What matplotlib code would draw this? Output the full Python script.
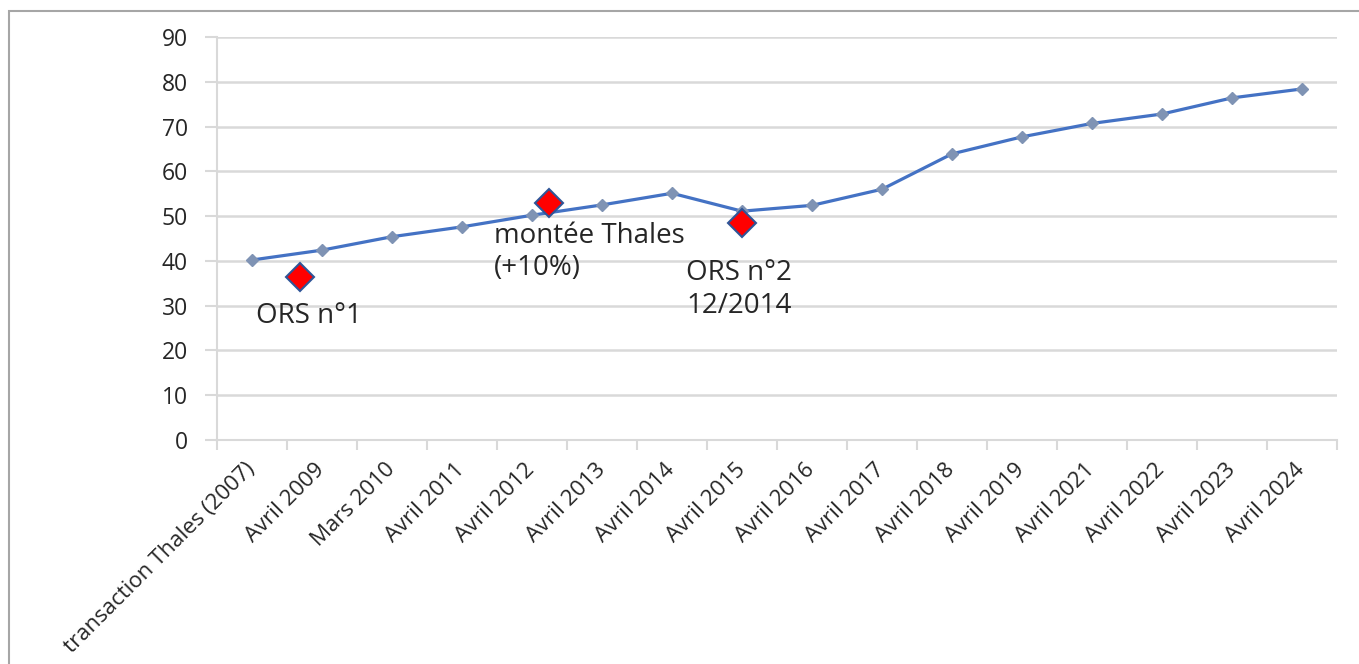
import numpy as np
import matplotlib.pyplot as plt
from matplotlib.patches import Rectangle

plt.rcParams['font.family'] = ['Open Sans', 'DejaVu Sans']

labels = ['transaction Thales (2007)', 'Avril 2009', 'Mars 2010', 'Avril 2011', 'Avril 2012',
          'Avril 2013', 'Avril 2014', 'Avril 2015', 'Avril 2016', 'Avril 2017', 'Avril 2018',
          'Avril 2019', 'Avril 2021', 'Avril 2022', 'Avril 2023', 'Avril 2024']
values = [40.2, 42.4, 45.4, 47.6, 50.2, 52.5, 55.1, 51.1, 52.4, 56.0, 63.9,
          67.7, 70.7, 72.8, 76.4, 78.4]

# events (x in category units)
event_x = [0.69, 4.24, 7.0]
event_y = [36.3, 52.9, 48.5]
event_text = ['ORS n°1', 'montée Thales\n(+10%)', 'ORS n°2\n12/2014']
text_x = [0.06, 3.46, 6.2]
text_y = [27.7, 42.0, 33.6]

grey = '#D9D9D9'

fig = plt.figure(figsize=(13.59, 6.64), dpi=100)
ax = fig.add_axes([217/1359, 1 - 440/664, (1337 - 217)/1359, (440 - 37)/664])

x = np.arange(len(values))
ax.plot(x, values, color='#4472C4', lw=2.3, marker='D', ms=6,
        markerfacecolor='#7F93B4', markeredgecolor='#7F93B4', zorder=3)
ax.plot(event_x, event_y, ls='none', marker='D', ms=14,
        markerfacecolor='#FF0000', markeredgecolor='#2F5597', markeredgewidth=1.5, zorder=4)

for tx, ty, s in zip(text_x, text_y, event_text):
    ax.text(tx, ty, s, ha='left', va='center', fontsize=20, color='#262626', linespacing=1.2)

ax.set_ylim(0, 90)
ax.set_yticks(np.arange(0, 91, 10))
ax.set_xlim(-0.5, len(values) - 0.5)
ax.set_xticks(np.arange(-0.5, len(values), 1))
ax.set_xticklabels([])
ax.set_xticks(x, minor=True)
ax.set_xticklabels(labels, minor=True, rotation=45, ha='right', va='center',
                   rotation_mode='anchor', fontsize=16, color='#262626')
ax.tick_params(axis='x', which='minor', length=0, pad=19)
ax.tick_params(axis='x', which='major', length=7, color=grey, width=1.5, direction='out')
ax.tick_params(axis='y', length=9, color=grey, width=1.5, labelsize=16.5, labelcolor='#262626', pad=12)

ax.grid(axis='y', color=grey, lw=1.8)
ax.set_axisbelow(True)
for side in ['top', 'right']:
    ax.spines[side].set_visible(False)
for side in ['left', 'bottom']:
    ax.spines[side].set_color(grey)
    ax.spines[side].set_linewidth(1.5)

fig.add_artist(Rectangle((9/1359, -0.1), 1.1, 1.1 - 11/664, transform=fig.transFigure,
                         fill=False, edgecolor='#A6A6A6', lw=1.5))

plt.savefig('out.png', dpi=100)
